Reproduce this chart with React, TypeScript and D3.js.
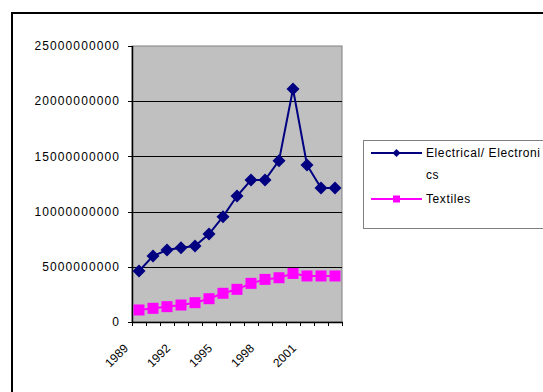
import React from "react";
import * as d3 from "d3";

const years = [1989, 1990, 1991, 1992, 1993, 1994, 1995, 1996, 1997, 1998, 1999, 2000, 2001, 2002, 2003];
const electrical = [4.62e9, 5.98e9, 6.52e9, 6.73e9, 6.88e9, 7.97e9, 9.54e9, 11.41e9, 12.86e9, 12.86e9, 14.61e9, 21.1e9, 14.22e9, 12.14e9, 12.14e9];
const textiles = [1.09e9, 1.24e9, 1.39e9, 1.54e9, 1.75e9, 2.11e9, 2.6e9, 2.96e9, 3.5e9, 3.86e9, 4.01e9, 4.4e9, 4.17e9, 4.17e9, 4.17e9];
const yTicks = [0, 5e9, 10e9, 15e9, 20e9, 25e9];
const xLabelYears = [1989, 1992, 1995, 1998, 2001];
const seriesNames = ["Electrical/ Electroni", "cs", "Textiles"];

const W = 543;
const H = 392;
const left = 132;
const right = 342;
const top = 46;
const bottom = 322;
const font = "'Liberation Sans', Arial, sans-serif";

export default function App() {
  const x = d3.scaleBand<number>().domain(years).range([left, right]).padding(0);
  const y = d3.scaleLinear().domain([0, 25e9]).range([bottom, top]);
  const cx = (yr: number) => (x(yr) as number) + x.bandwidth() / 2;
  const line = d3
    .line<number>()
    .x((_, i) => cx(years[i]))
    .y((d) => y(d));
  const diamond = (px: number, py: number, r: number) =>
    `M${px},${py - r}L${px + r},${py}L${px},${py + r}L${px - r},${py}Z`;

  const boundaries = years.map((yr) => x(yr) as number).concat([right]);

  return (
    <svg width={W} height={H} style={{ position: "absolute", left: 0, top: 0, background: "#fff" }}>
      {/* outer chart border */}
      <rect x={12} y={13} width={W} height={H} fill="#fff" stroke="#000" strokeWidth={2} />
      {/* plot area */}
      <rect x={left} y={top} width={right - left} height={bottom - top} fill="#C0C0C0" stroke="#808080" strokeWidth={1} />
      {yTicks.slice(1, -1).map((t) => (
        <line key={t} x1={left} x2={right} y1={Math.round(y(t)) + 0.5} y2={Math.round(y(t)) + 0.5} stroke="#000" strokeWidth={1} />
      ))}
      {/* axes */}
      <line x1={left + 0.5} x2={left + 0.5} y1={top} y2={bottom + 1} stroke="#000" strokeWidth={1.5} />
      <line x1={left} x2={right + 1} y1={bottom + 0.5} y2={bottom + 0.5} stroke="#000" strokeWidth={1.5} />
      {yTicks.map((t) => (
        <g key={t}>
          <line x1={left - 4} x2={left} y1={Math.round(y(t)) + 0.5} y2={Math.round(y(t)) + 0.5} stroke="#000" />
          <text
            x={120}
            y={y(t) + 1}
            textAnchor="end"
            dominantBaseline="middle"
            fontFamily={font}
            fontSize={12}
            letterSpacing={1.1}
            fill="#000"
          >
            {t}
          </text>
        </g>
      ))}
      {boundaries.map((b, i) => (
        <line key={i} x1={Math.round(b) + 0.5} x2={Math.round(b) + 0.5} y1={bottom} y2={bottom + 4} stroke="#000" />
      ))}
      {xLabelYears.map((yr) => {
        const ax = cx(yr) - 10;
        const ay = bottom + 27;
        return (
          <text
            key={yr}
            x={ax}
            y={ay}
            textAnchor="end"
            transform={`rotate(-45 ${ax} ${ay})`}
            fontFamily={font}
            fontSize={12}
            fill="#000"
          >
            {yr}
          </text>
        );
      })}
      {/* series */}
      <path d={line(textiles) || ""} fill="none" stroke="#FF00FF" strokeWidth={2} />
      {textiles.map((v, i) => (
        <rect key={i} x={cx(years[i]) - 5.5} y={y(v) - 5.5} width={11} height={11} fill="#FF00FF" />
      ))}
      <path d={line(electrical) || ""} fill="none" stroke="#000080" strokeWidth={2} />
      {electrical.map((v, i) => (
        <path key={i} d={diamond(cx(years[i]), y(v), 6.5)} fill="#000080" />
      ))}
      {/* legend */}
      <rect x={363.5} y={140.5} width={200} height={88} fill="#fff" stroke="#808080" strokeWidth={1} />
      <line x1={371} x2={422} y1={153} y2={153} stroke="#000080" strokeWidth={2} />
      <path d={diamond(396.5, 153, 4)} fill="#000080" />
      <text x={426} y={157} fontFamily={font} fontSize={12} letterSpacing={0.6} fill="#000">
        {seriesNames[0]}
      </text>
      <text x={426} y={179} fontFamily={font} fontSize={12} letterSpacing={0.6} fill="#000">
        {seriesNames[1]}
      </text>
      <line x1={371} x2={422} y1={199} y2={199} stroke="#FF00FF" strokeWidth={2} />
      <rect x={393} y={195.5} width={7} height={7} fill="#FF00FF" />
      <text x={426} y={203} fontFamily={font} fontSize={12} letterSpacing={0.6} fill="#000">
        {seriesNames[2]}
      </text>
    </svg>
  );
}
